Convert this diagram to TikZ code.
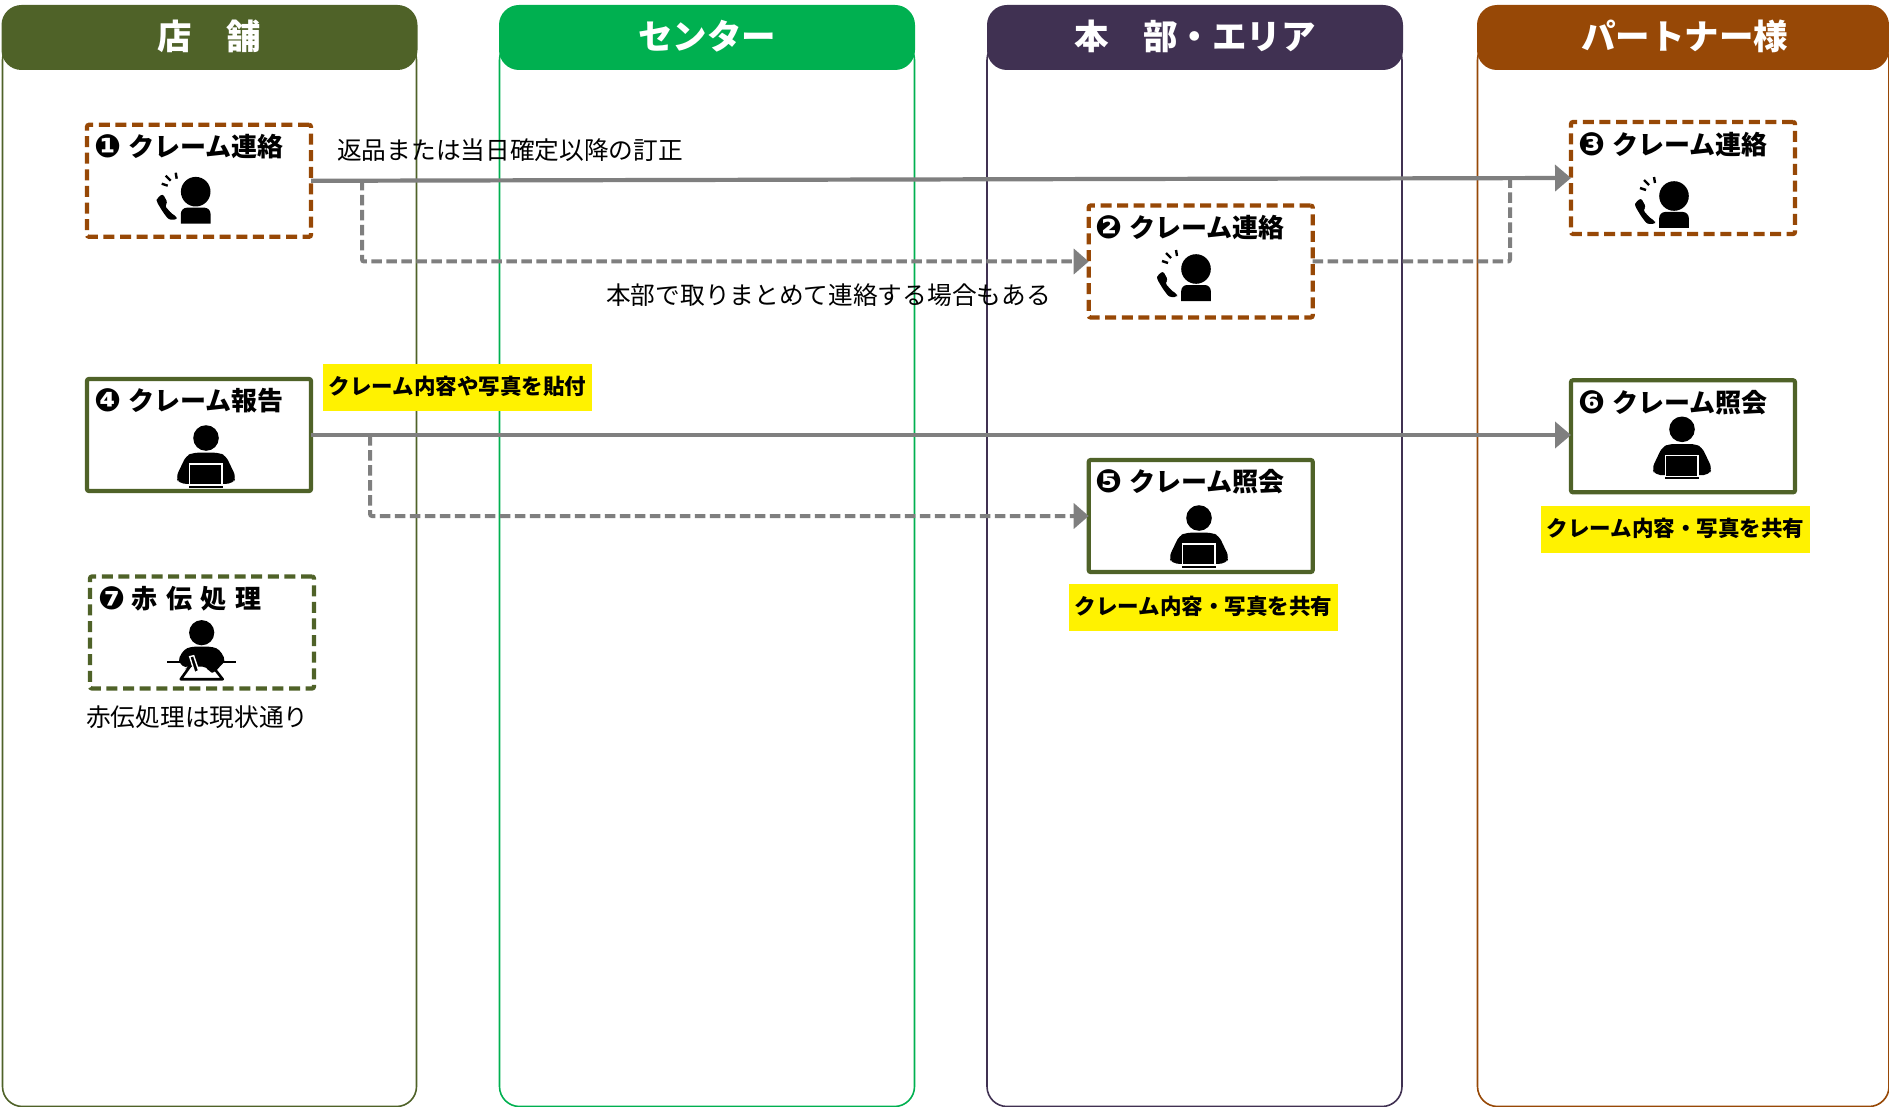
\documentclass[tikz,border=0pt]{standalone}
\usepackage{fontspec}
\usetikzlibrary{arrows.meta}
\setmainfont{Noto Sans CJK JP}
\newfontfamily\symfont{DejaVu Sans}
\definecolor{olive}{HTML}{4F6228}
\definecolor{lgreen}{HTML}{00B050}
\definecolor{lpurple}{HTML}{403152}
\definecolor{lbrown}{HTML}{974806}
\definecolor{flow}{HTML}{7F7F7F}
\newcommand{\numtitle}[2]{\makebox[33.5pt][l]{\fontsize{32pt}{30pt}\selectfont\symfont\raisebox{-1pt}{#1}}#2}
\newcommand{\headtext}[1]{\raisebox{5.5pt}{#1}}
\newcommand{\notetext}[1]{\raisebox{4pt}{#1}}
\tikzset{
  x=1pt,y=-1pt,
  lanebody/.style={line width=1.6pt,rounded corners=20pt,fill=white},
  lanehead/.style={rounded corners=20pt,minimum width=416pt,minimum height=65pt,inner sep=0,outer sep=0,text=white,font=\fontsize{34.5pt}{38pt}\selectfont\bfseries},
  card/.style={minimum width=224pt,minimum height=112pt,inner sep=0,outer sep=0,fill=white,line width=4.2pt,rounded corners=2pt},
  cardsolid/.style={card,draw=olive},
  carddashbrown/.style={card,draw=lbrown,dash pattern=on 11pt off 5.6pt},
  carddashgreen/.style={card,draw=olive,dash pattern=on 11pt off 5.6pt},
  cardtitle/.style={anchor=west,inner sep=0,font=\fontsize{26pt}{30pt}\selectfont\bfseries},
  note/.style={fill=yellow,inner sep=0,minimum width=269pt,minimum height=47pt,font=\fontsize{21.5pt}{26pt}\selectfont\bfseries},
  plain/.style={inner sep=0,anchor=west,font=\fontsize{24.7pt}{28pt}\selectfont},
  flowsolid/.style={draw=flow,line width=4.2pt,-{Triangle[length=16pt,width=26pt]}},
  flowdash/.style={draw=flow,line width=4pt,dash pattern=on 10.5pt off 4.5pt,rounded corners=2pt},
  flowdasharrow/.style={flowdash,-{Triangle[length=15pt,width=25pt]}},
  pics/callperson/.style={code={
    \fill (0,0) circle (14.8);
    \fill (-14.8,32) [rounded corners=6pt] -- (-14.8,16) -- (14.8,16) [sharp corners] -- (14.8,32) -- cycle;
    \fill[rounded corners=2.5pt] (-39,7) -- (-33,2) -- (-28,11) -- (-31,14) -- (-24,22) -- (-19,25) -- (-19,28) -- (-27,28) -- (-33,20) -- (-39,10) -- cycle;
    \draw[line width=2.4pt] (-34,-8) -- (-28,-6) (-30,-16) -- (-25,-11) (-20,-19) -- (-19,-13);
  }},
  pics/laptopperson/.style={code={
    \fill (0,0) circle (12.8);
    \fill[rounded corners=5pt] (-13,14.7) -- (13,14.7) -- (20,18) -- (30,39) -- (27,45.5) -- (14,46) -- (-14,46) -- (-27,45.5) -- (-30,39) -- (-20,18) -- cycle;
    \draw[white,fill=black,line width=1.6pt] (-16.5,26) rectangle (16,47);
    \fill (-17,47.5) rectangle (16.5,49.5);
  }},
  pics/writeperson/.style={code={
    \fill (0,0) circle (12.6);
    \draw[line width=2.4pt] (-34.5,29) -- (34.5,29);
    \draw[line width=2.6pt,line join=round,fill=white] (-9,30) -- (8,30) -- (21,46.5) -- (-21,46.5) -- cycle;
    \fill[rounded corners=4pt] (-11,14) -- (11,14) -- (18,17) -- (24,28) -- (16,36) -- (13,40) -- (8,40) -- (5,34) -- (-14,34) -- (-16,36) -- (-24,28) -- (-18,17) -- cycle;
    \draw[white,fill=black,line width=1.4pt] (-12,24) -- (-8,23) -- (-3,38) -- (-7,40) -- cycle;
  }}
}
\begin{document}
\begin{tikzpicture}
\useasboundingbox (0,0) rectangle (1889,1107);
\clip (0,0) rectangle (1889,1107);
% lanes
\draw[lanebody,draw=olive] (2.5,40) rectangle (416.5,1106.5);
\draw[lanebody,draw=lgreen] (499.5,40) rectangle (914.5,1106.5);
\draw[lanebody,draw=lpurple] (987,40) rectangle (1402,1106.5);
\draw[lanebody,draw=lbrown] (1477.5,40) rectangle (1889,1106.5);
\node[lanehead,fill=olive] (h1) at (209.5,37.5) {\headtext{店　舗}};
\node[lanehead,fill=lgreen] (h2) at (707,37.5) {\headtext{センター}};
\node[lanehead,fill=lpurple] (h3) at (1195,37.5) {\headtext{本　部・エリア}};
\node[lanehead,fill=lbrown,minimum width=412pt] (h4) at (1683,37.5) {\hspace{3pt}\headtext{パートナー様}};
% cards
\node[carddashbrown] (b1) at (199,180.8) {};
\node[carddashbrown] (b2) at (1200.7,261.5) {};
\node[carddashbrown] (b3) at (1683,178) {};
\node[cardsolid] (b4) at (199,435) {};
\node[cardsolid] (b5) at (1200.7,516) {};
\node[cardsolid] (b6) at (1683,436.3) {};
\node[carddashgreen] (b7) at (202,632.5) {};
% connectors
\coordinate (j1) at (362,180);
\coordinate (j2) at (1510,178.5);
\coordinate (j4) at (370,435);
\coordinate (j5) at (1560,178.5);
\draw[flowdasharrow] (j1) |- (b2.west);
\draw[flowdash] (b2.east) -| (j2);
\draw[flowdash] (j2) -- (j5);
\draw[flowsolid] (b1.east) -- (b3.west);
\draw[flowdasharrow] (j4) |- (b5.west);
\draw[flowsolid] (b4.east) -- (b4.east -| b6.west);
% titles
\node[cardtitle] (t1) at (94.5,147) {\numtitle{❶}{クレーム連絡}};
\node[cardtitle] (t2) at (1095.5,228) {\numtitle{❷}{クレーム連絡}};
\node[cardtitle] (t3) at (1578.5,145) {\numtitle{❸}{クレーム連絡}};
\node[cardtitle] (t4) at (94.5,401) {\numtitle{❹}{クレーム報告}};
\node[cardtitle] (t5) at (1095.5,482) {\numtitle{❺}{クレーム照会}};
\node[cardtitle] (t6) at (1578.5,403) {\numtitle{❻}{クレーム照会}};
\node[cardtitle] (t7) at (98,599) {\numtitle{❼}{赤\hspace{8.5pt}伝\hspace{8.5pt}処\hspace{8.5pt}理}};
% icons
\pic at (195.7,191.7) {callperson};
\pic at (1196,269) {callperson};
\pic at (1674,196) {callperson};
\pic at (206,438) {laptopperson};
\pic at (1199,518) {laptopperson};
\pic at (1682,429.3) {laptopperson};
\pic at (201.7,632.7) {writeperson};
% labels
\node[plain] (l1) at (337,150) {返品または当日確定以降の訂正};
\node[plain] (l2) at (606,295) {本部で取りまとめて連絡する場合もある};
\node[plain] (l3) at (86,717) {赤伝処理は現状通り};
\node[note] (n1) at (457.5,387.5) {\notetext{クレーム内容や写真を貼付}};
\node[note] (n2) at (1203.5,607) {\notetext{クレーム内容・写真を共有}};
\node[note] (n3) at (1675.5,529.5) {\notetext{クレーム内容・写真を共有}};
\end{tikzpicture}
\end{document}
